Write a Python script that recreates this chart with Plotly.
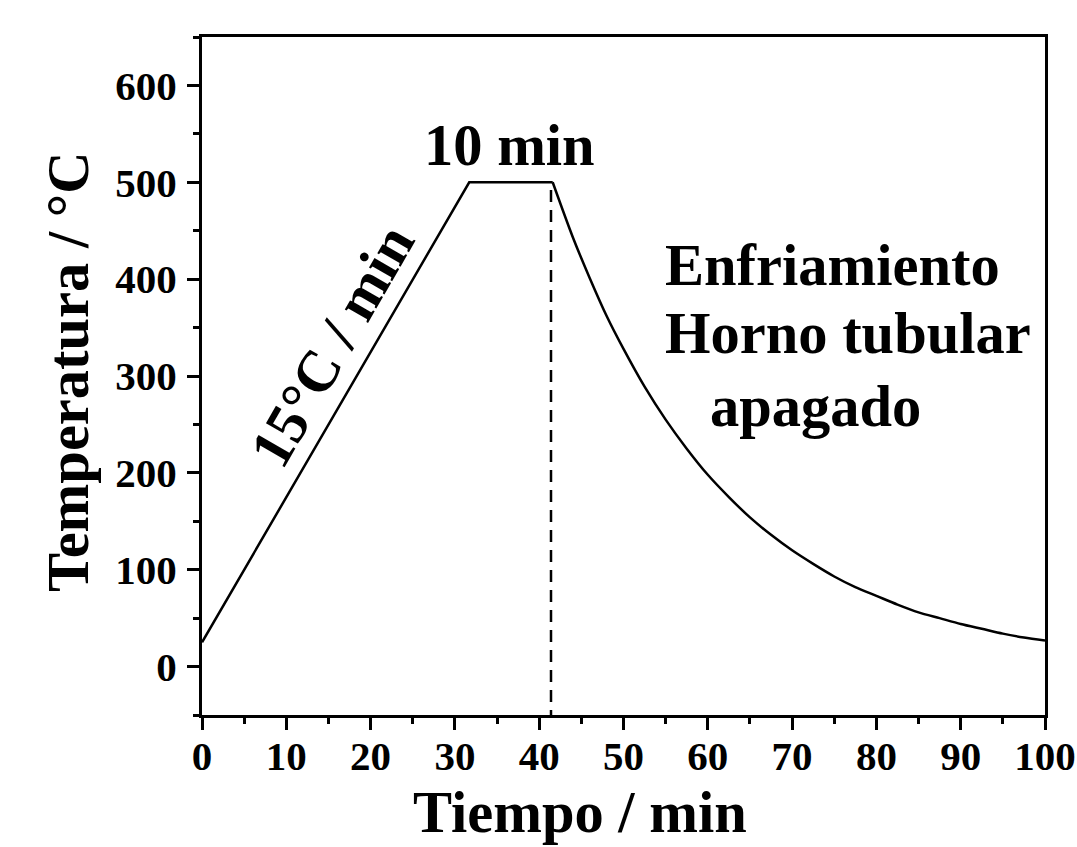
import plotly.graph_objects as go

# Heating ramp + plateau
t_heat = [0, 31.7, 41.6]
T_heat = [25, 500, 500]

# Cooling curve
t_cool = [41.6, 44, 46, 48, 50, 52.5, 55, 57.5, 60, 62.5, 65, 67.5, 70, 72.5, 75,
          77.5, 80, 82.5, 85, 87.5, 90, 92.5, 95, 97.5, 100]
T_cool = [500, 443, 401, 362, 328, 289, 255, 225, 198, 175, 154, 136, 120, 106, 93,
          82, 73, 64, 56, 50, 44, 39, 34, 30, 27]

# Dashed marker line
t_dash = [41.4, 41.4]
T_dash = [492, -50]

x_ticks = [0, 10, 20, 30, 40, 50, 60, 70, 80, 90, 100]
y_ticks = [0, 100, 200, 300, 400, 500, 600]

FONT = "Liberation Serif, Times New Roman, serif"
BIG = 58.5

fig = go.Figure()
fig.add_trace(go.Scatter(x=t_heat, y=T_heat, mode="lines",
                         line=dict(color="black", width=2.5),
                         showlegend=False))
fig.add_trace(go.Scatter(x=t_cool, y=T_cool, mode="lines",
                         line=dict(color="black", width=2.5, shape="spline", smoothing=0.8),
                         showlegend=False))
fig.add_trace(go.Scatter(x=t_dash, y=T_dash, mode="lines",
                         line=dict(color="black", width=2.5, dash="12px,8px"),
                         showlegend=False))

axis_common = dict(
    showgrid=False, zeroline=False, showline=True, linecolor="black", linewidth=3,
    mirror=True, ticks="outside", ticklen=12, tickwidth=3, tickcolor="black",
    automargin=False,
    tickfont=dict(family=FONT, size=41, color="black", weight="bold"),
)

fig.update_xaxes(range=[0, 100], tickvals=x_ticks, ticklabelstandoff=-9,
                 minor=dict(dtick=5, tick0=0, ticks="outside", ticklen=6, tickwidth=3, tickcolor="black"),
                 **axis_common)
fig.update_yaxes(range=[-50, 650], tickvals=y_ticks, ticklabelstandoff=2,
                 minor=dict(dtick=50, tick0=-50, ticks="outside", ticklen=6, tickwidth=3, tickcolor="black"),
                 **axis_common)

ann_font = dict(family=FONT, size=BIG, color="black", weight="bold")
# axis titles
fig.add_annotation(xref="paper", yref="paper", x=(580 - 202) / 843, y=(847 - 132 - 812) / 678,
                   text="Tiempo / min", showarrow=False, font=ann_font,
                   xanchor="center", yanchor="middle")
fig.add_annotation(xref="paper", yref="paper", x=(68 - 202) / 843, y=(715 - 372) / 678,
                   text="Temperatura / °C", showarrow=False, font=ann_font, textangle=-90,
                   xanchor="center", yanchor="middle")

fig.add_annotation(x=36.5, y=538, text="10 min", showarrow=False, font=ann_font,
                   xanchor="center", yanchor="middle")
fig.add_annotation(x=15.5, y=331, text="15°C / min", showarrow=False, font=ann_font,
                   textangle=-60, xanchor="center", yanchor="middle")
fig.add_annotation(x=54.7, y=414, text="Enfriamiento", showarrow=False, font=ann_font,
                   xanchor="left", yanchor="middle")
fig.add_annotation(x=54.7, y=344, text="Horno tubular", showarrow=False, font=ann_font,
                   xanchor="left", yanchor="middle")
fig.add_annotation(x=60.0, y=268, text="apagado", showarrow=False, font=ann_font,
                   xanchor="left", yanchor="middle")

fig.update_layout(width=1077, height=847, margin=dict(l=202, r=32, t=37, b=132),
                  plot_bgcolor="white", paper_bgcolor="white")

fig.write_html("out.html")
